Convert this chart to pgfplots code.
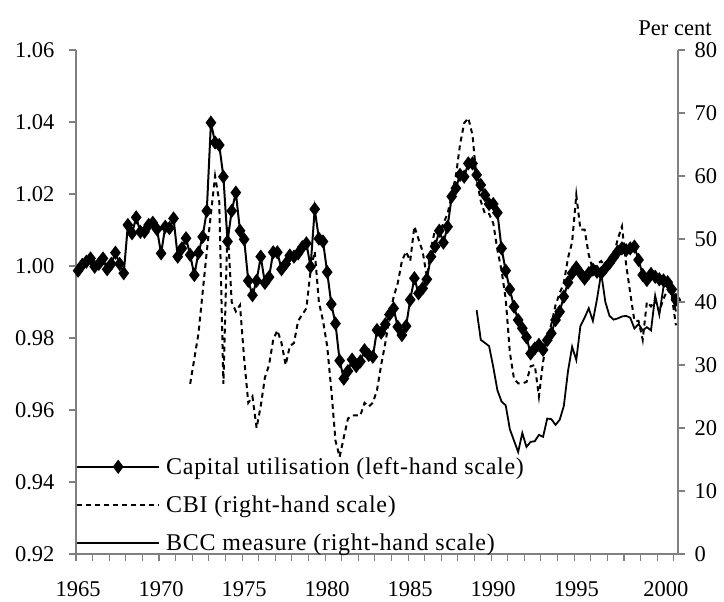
\documentclass[border=0pt]{standalone}
\usepackage{fontspec}
\setmainfont{Liberation Serif}
\newfontfamily\legfont[LetterSpace=3]{Liberation Serif}
\usepackage{pgfplots}
\usepackage{pgfplotstable}
\pgfplotsset{compat=1.18}
\newcommand\ff{\fontsize{24}{28}\selectfont}
\newcommand\tf{\fontsize{22.5}{26}\selectfont}

\pgfplotstableread{
x cu cbi bcc
1965.00 0.9987 nan nan
1965.25 1.0003 nan nan
1965.50 1.0012 nan nan
1965.75 1.0021 nan nan
1966.00 0.9998 nan nan
1966.25 1.0006 nan nan
1966.50 1.0021 nan nan
1966.75 0.9991 nan nan
1967.00 1.0006 nan nan
1967.25 1.0037 nan nan
1967.50 1.0006 nan nan
1967.75 0.9980 nan nan
1968.00 1.0114 nan nan
1968.25 1.0091 nan nan
1968.50 1.0135 nan nan
1968.75 1.0095 nan nan
1969.00 1.0095 nan nan
1969.25 1.0114 nan nan
1969.50 1.0120 nan nan
1969.75 1.0102 nan nan
1970.00 1.0035 nan nan
1970.25 1.0109 nan nan
1970.50 1.0105 nan nan
1970.75 1.0132 nan nan
1971.00 1.0026 nan nan
1971.25 1.0049 nan nan
1971.50 1.0077 nan nan
1971.75 1.0031 27 nan
1972.00 0.9975 31 nan
1972.25 1.0037 35 nan
1972.50 1.0081 41.5 nan
1972.75 1.0153 48 nan
1973.00 1.0398 54 nan
1973.25 1.0343 60 nan
1973.50 1.0336 56 nan
1973.75 1.0248 27 nan
1974.00 1.0068 52 nan
1974.25 1.0153 40 nan
1974.50 1.0204 38.5 nan
1974.75 1.0098 39.5 nan
1975.00 1.0074 31 nan
1975.25 0.9959 24 nan
1975.50 0.9919 25 nan
1975.75 0.9959 20 nan
1976.00 1.0026 23.5 nan
1976.25 0.9953 28 nan
1976.50 0.9969 30 nan
1976.75 1.0038 34 nan
1977.00 1.0038 35.5 nan
1977.25 0.9991 33.5 nan
1977.50 1.0006 30 nan
1977.75 1.0029 33 nan
1978.00 1.0026 33.5 nan
1978.25 1.0035 37 nan
1978.50 1.0052 38 nan
1978.75 1.0063 39 nan
1979.00 0.9998 45 nan
1979.25 1.0158 48 nan
1979.50 1.0076 40 nan
1979.75 1.0068 37 nan
1980.00 0.9983 33 nan
1980.25 0.9894 26 nan
1980.50 0.9840 18 nan
1980.75 0.9737 15.4 nan
1981.00 0.9687 18.5 nan
1981.25 0.9708 21.5 nan
1981.50 0.9740 22 nan
1981.75 0.9722 22 nan
1982.00 0.9735 22 nan
1982.25 0.9766 24 nan
1982.50 0.9753 23.4 nan
1982.75 0.9748 24 nan
1983.00 0.9822 26 nan
1983.25 0.9815 30 nan
1983.50 0.9838 33.5 nan
1983.75 0.9865 37.5 nan
1984.00 0.9882 40.8 nan
1984.25 0.9831 43 nan
1984.50 0.9808 46.5 nan
1984.75 0.9833 48 nan
1985.00 0.9906 46.5 nan
1985.25 0.9966 52 nan
1985.50 0.9924 50 nan
1985.75 0.9938 48 nan
1986.00 0.9963 44 nan
1986.25 1.0026 48.5 nan
1986.50 1.0054 51.5 nan
1986.75 1.0098 51 nan
1987.00 1.0065 52.5 nan
1987.25 1.0109 54 nan
1987.50 1.0193 57 nan
1987.75 1.0216 60 nan
1988.00 1.0253 65 nan
1988.25 1.0248 68.4 nan
1988.50 1.0285 69.2 nan
1988.75 1.0285 66.5 nan
1989.00 1.0253 59.5 38.7
1989.25 1.0225 56 34
1989.50 1.0197 54 33.5
1989.75 1.0172 54 33
1990.00 1.0172 52.5 29.7
1990.25 1.0148 48.3 26
1990.50 1.0049 45 24.2
1990.75 0.9987 40.5 23.6
1991.00 0.9935 32 19.8
1991.25 0.9887 27.8 18
1991.50 0.9850 27.1 16.2
1991.75 0.9827 27.1 19.2
1992.00 0.9802 27.3 17
1992.25 0.9757 29.8 17.8
1992.50 0.9771 30 17.9
1992.75 0.9781 25 18.9
1993.00 0.9767 30.5 18.6
1993.25 0.9794 34 21.5
1993.50 0.9813 36.5 21.4
1993.75 0.9850 39.5 20.5
1994.00 0.9873 41.4 21.3
1994.25 0.9915 43 23.5
1994.50 0.9954 47 29
1994.75 0.9980 49.5 32.9
1995.00 0.9996 57 30.8
1995.25 0.9980 51.5 36.2
1995.50 0.9965 51.5 37.5
1995.75 0.9980 47.5 39
1996.00 0.9990 45.1 37
1996.25 0.9984 46 40.5
1996.50 0.9980 46.5 44.6
1996.75 0.9994 45.5 40
1997.00 1.0008 45.8 37.8
1997.25 1.0024 47.5 37.2
1997.50 1.0040 50 37.4
1997.75 1.0049 52 37.7
1998.00 1.0044 46 37.8
1998.25 1.0049 41.4 37.5
1998.50 1.0054 37 35.8
1998.75 1.0017 37 36.5
1999.00 0.9975 34 35.5
1999.25 0.9961 40 36
1999.50 0.9978 39.3 35.5
1999.75 0.9970 40.3 41
2000.00 0.9963 38.5 38
2000.25 0.9960 40.5 42.4
2000.50 0.9955 42 42.7
2000.75 0.9935 41 41.5
2001.00 0.9906 36.3 38.5
}\data

\pgfplotsset{
  mycu/.style={black, line width=2pt, mark=diamond*, mark size=5.5pt, mark options={solid, fill=black}},
  mycbi/.style={black, line width=2pt, dash pattern=on 5pt off 4pt},
  mybcc/.style={black, line width=1.8pt},
  base/.style={
    at={(0,0)}, anchor=south west,
    scale only axis, width=602pt, height=504pt,
    xmin=1964.875, xmax=2001.125,
    axis line style={draw=gray, line width=1.3pt, -},
    tick style={draw=gray, line width=1.1pt},
    tick align=outside,
    major tick length=7pt,
    ticklabel style={font=\tf},
    /pgf/number format/assume math mode=true,
  },
}

\begin{document}
\begin{tikzpicture}
\useasboundingbox (-76pt,-48pt) rectangle (648pt,554pt);
\begin{axis}[base,
  ymin=0.92, ymax=1.06,
  axis x line*=bottom, axis y line*=left,
  xtick={1964.875,1965.875,...,2000.875},
  xticklabels={},
  extra x ticks={1965,1970,1975,1980,1985,1990,1995,2000.4},
  extra x tick labels={1965,1970,1975,1980,1985,1990,1995,2000},
  extra x tick style={major tick length=0pt, tick style={draw=none},
    xticklabel style={yshift=-24pt}},
  ytick={0.92,0.94,0.96,0.98,1.00,1.02,1.04,1.06},
  yticklabel style={xshift=-11pt, /pgf/number format/.cd, fixed, fixed zerofill, precision=2},
]
\addplot[mycu] table[x=x, y=cu] {\data};
\end{axis}
\begin{axis}[base, name=R,
  ymin=0, ymax=80,
  axis x line=none, axis y line*=right,
  ytick={0,10,20,30,40,50,60,70,80},
  yticklabel style={xshift=6pt},
  legend cell align=left,
  legend image code/.code={\draw[mark repeat=2,mark phase=2,#1] plot coordinates {(0pt,0pt) (41pt,0pt) (82pt,0pt)};},
  legend style={at={(0,0)}, anchor=south west, yshift=-0.5pt, draw=none, fill=none, font=\ff\legfont,
    inner sep=0pt, row sep=16pt, column sep=4pt},
]
\addlegendimage{mycu}
\addlegendentry{Capital utilisation (left-hand scale)}
\addplot[mycbi] table[x=x, y=cbi] {\data};
\addlegendentry{CBI (right-hand scale)}
\addplot[mybcc] table[x=x, y=bcc] {\data};
\addlegendentry{BCC measure (right-hand scale)}
\end{axis}
\node[font=\tf, anchor=base] at ([yshift=15pt, xshift=-3pt]R.north east) {Per cent};
\end{tikzpicture}
\end{document}
